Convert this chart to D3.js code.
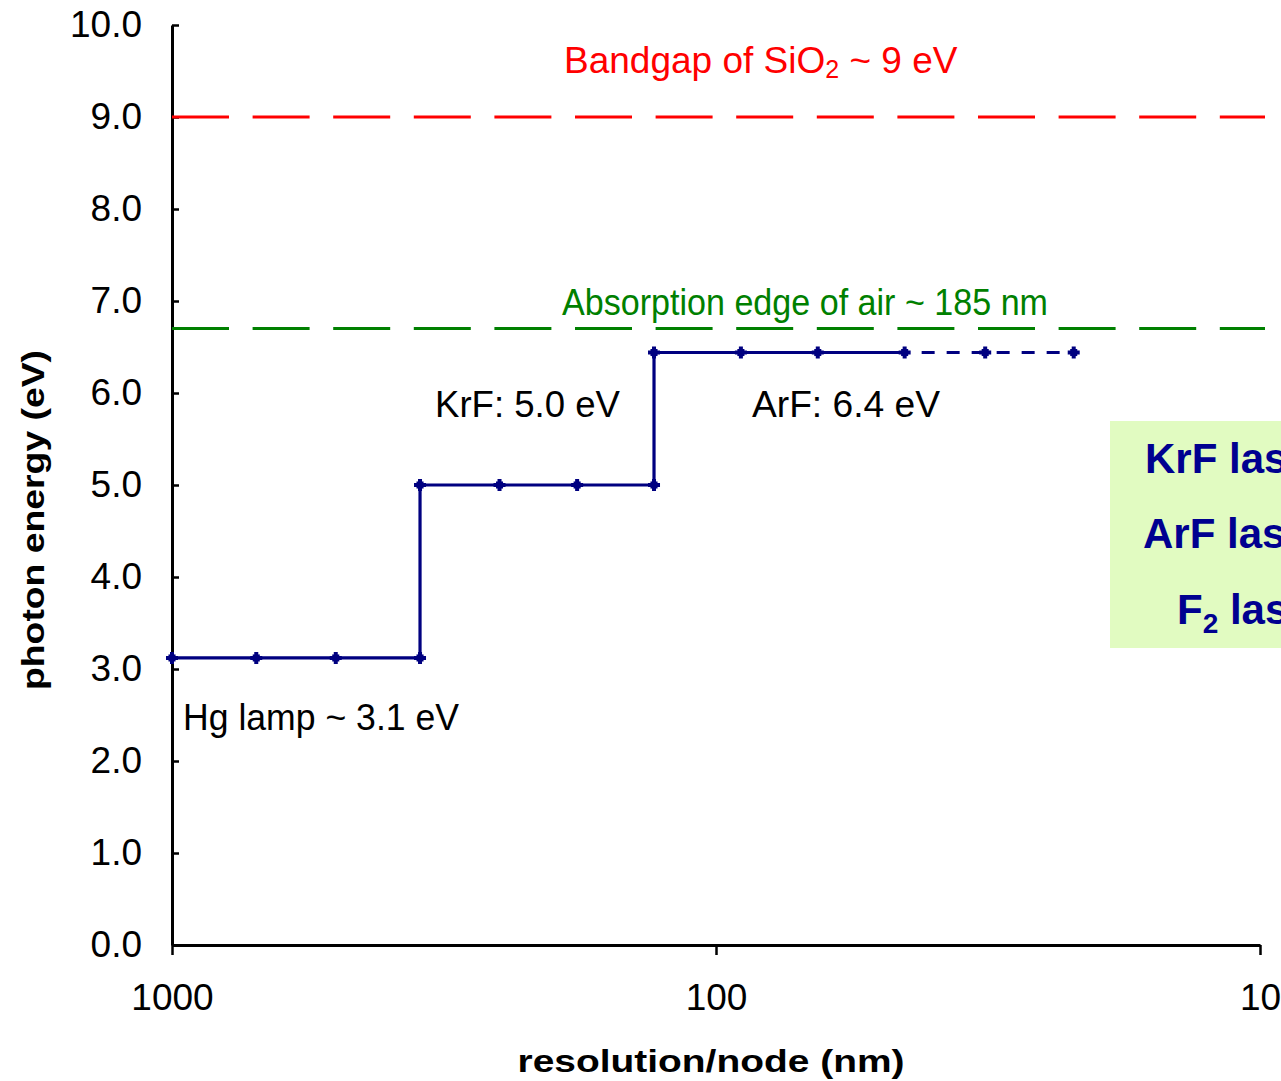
<!DOCTYPE html>
<html>
<head>
<meta charset="utf-8">
<script src="https://cdn.jsdelivr.net/npm/d3@7"></script>
<style>
	body { margin: 0; background: #fff; }
	svg { display: block; font-family: "Liberation Sans", Arial, sans-serif; }
</style>
</head>
<body>
<svg id="chart"></svg>
<script>
// data
const nodes = [1000, 700, 500, 350, 350, 250, 180, 130, 130, 90, 65, 45];
const energy = [3.12, 3.12, 3.12, 3.12, 5.0, 5.0, 5.0, 5.0, 6.44, 6.44, 6.44, 6.44];
const futureNodes = [45, 32, 22];
const futureEnergy = [6.44, 6.44, 6.44];
const xTicks = [1000, 100, 10];
const yTicks = [0, 1, 2, 3, 4, 5, 6, 7, 8, 9, 10];
const bandgap = 9.0;
const airEdge = 6.7;
const laserLabels = ["KrF laser", "ArF laser", "F"];

const width = 1281, height = 1081;
const svg = d3.select("#chart")
		.attr("width", width)
		.attr("height", height);

const x = d3.scaleLog().domain([1000, 10]).range([172, 1260]);
const y = d3.scaleLinear().domain([0, 10]).range([945, 25]);

// legend box on the right (runs off the page edge like the original)
svg.append("rect")
	.attr("x", 1110).attr("y", 421)
	.attr("width", 200).attr("height", 227)
	.attr("fill", "#E1FBC1");

const laserY = [473, 548, 624];
const laserX = [1145, 1143, 1177];
laserLabels.forEach(function(t, i) {
	const txt = svg.append("text")
		.attr("x", laserX[i]).attr("y", laserY[i])
		.attr("font-size", 42).attr("font-weight", "bold")
		.attr("fill", "#000090");
	if (i < 2) {
		txt.text(t);
	} else {
		txt.append("tspan").text(t);
		txt.append("tspan").attr("font-size", 28).attr("dy", 9).text("2");
		txt.append("tspan").attr("dy", -9).text(" laser");
	}
});

// y axis, ticks pointing inward
const yAxis = svg.append("g")
	.attr("transform", "translate(172,0)")
	.call(d3.axisLeft(y).tickValues(yTicks).tickFormat(d3.format(".1f"))
		.tickSizeInner(-7).tickSizeOuter(0).tickPadding(30));
yAxis.select(".domain").attr("stroke-width", 3);
yAxis.selectAll(".tick line").attr("stroke-width", 2.5);
yAxis.selectAll(".tick text").attr("font-size", 37).attr("fill", "#000").attr("font-family", null);

// x axis
const xAxis = svg.append("g")
	.attr("transform", "translate(0,945)")
	.call(d3.axisBottom(x).tickValues(xTicks).tickFormat(d3.format("d"))
		.tickSize(10).tickSizeOuter(0).tickPadding(29));
xAxis.select(".domain").attr("stroke-width", 3);
xAxis.selectAll(".tick line").attr("stroke-width", 2.5);
xAxis.selectAll(".tick text").attr("font-size", 37).attr("fill", "#000").attr("font-family", null);

// reference lines
svg.append("line")
	.attr("x1", 172).attr("x2", 1265)
	.attr("y1", y(bandgap)).attr("y2", y(bandgap))
	.attr("stroke", "#FF0000").attr("stroke-width", 3)
	.attr("stroke-dasharray", "57,23.6");
svg.append("line")
	.attr("x1", 172).attr("x2", 1265)
	.attr("y1", y(airEdge)).attr("y2", y(airEdge))
	.attr("stroke", "#008000").attr("stroke-width", 3)
	.attr("stroke-dasharray", "57,23.6");

// step line
const pts = nodes.map(function(d, i) { return [x(d), y(energy[i])]; });
const futurePts = futureNodes.map(function(d, i) { return [x(d), y(futureEnergy[i])]; });
const line = d3.line();

svg.append("path")
	.attr("d", line(pts))
	.attr("fill", "none").attr("stroke", "#000080").attr("stroke-width", 3.2);
svg.append("path")
	.attr("d", line(futurePts))
	.attr("fill", "none").attr("stroke", "#000080").attr("stroke-width", 3.2)
	.attr("stroke-dasharray", "13,12").attr("stroke-dashoffset", 8);

// markers: small square with a cross
const allPts = pts.concat(futurePts.slice(1));
const cross = d3.symbol().type(d3.symbolCross).size(80);
const square = d3.symbol().type(d3.symbolSquare).size(50);
const mk = svg.selectAll(".pt")
	.data(allPts)
	.enter()
	.append("g")
	.attr("class", "pt")
	.attr("transform", function(d) { return "translate(" + d[0] + "," + d[1] + ")"; });
mk.append("path").attr("d", cross).attr("fill", "#000080");
mk.append("path").attr("d", square).attr("fill", "#000080");

// annotations
function label(tx, ty, str, len, color) {
	return svg.append("text")
		.attr("x", tx).attr("y", ty)
		.attr("font-size", 37)
		.attr("fill", color)
		.attr("textLength", len)
		.attr("lengthAdjust", "spacingAndGlyphs")
		.text(str);
}
label(183, 730, "Hg lamp ~ 3.1 eV", 276, "#000");
label(435, 417, "KrF: 5.0 eV", 185, "#000");
label(752, 417, "ArF: 6.4 eV", 188, "#000");
label(562, 315, "Absorption edge of air ~ 185 nm", 486, "#008000");

const bg = svg.append("text")
	.attr("x", 564).attr("y", 73)
	.attr("font-size", 37)
	.attr("fill", "#FF0000");
bg.append("tspan").text("Bandgap of SiO");
bg.append("tspan").attr("font-size", 25).attr("dy", 5).text("2");
bg.append("tspan").attr("dy", -5).text(" ~ 9 eV");

// axis titles
svg.append("text")
	.attr("x", 711).attr("y", 1072)
	.attr("text-anchor", "middle")
	.attr("font-size", 32).attr("font-weight", "bold")
	.attr("textLength", 387).attr("lengthAdjust", "spacingAndGlyphs")
	.text("resolution/node (nm)");
svg.append("text")
	.attr("transform", "translate(44,520) rotate(-90)")
	.attr("text-anchor", "middle")
	.attr("font-size", 32).attr("font-weight", "bold")
	.attr("textLength", 340).attr("lengthAdjust", "spacingAndGlyphs")
	.text("photon energy (eV)");
</script>
</body>
</html>
